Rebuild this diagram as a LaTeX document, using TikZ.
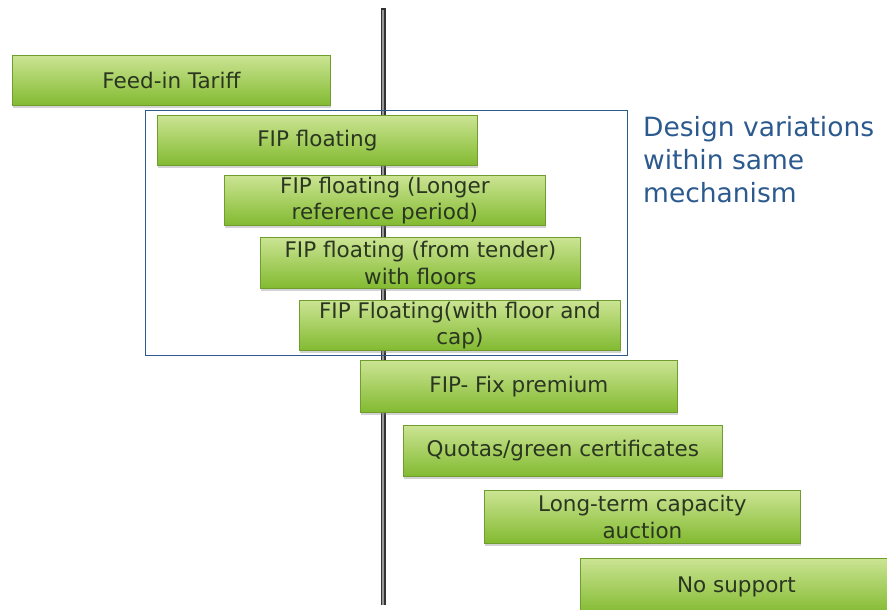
\documentclass[tikz,border=0pt]{standalone}
\usepackage{fontspec}
\setmainfont{DejaVu Sans}
\usetikzlibrary{shadows}
\definecolor{boxtop}{HTML}{CBE493}
\definecolor{boxbot}{HTML}{82BA30}
\definecolor{boxline}{HTML}{6F9E2E}
\definecolor{boxtext}{HTML}{2A3620}
\definecolor{dvblue}{HTML}{2C5A8E}
\tikzset{
  gbox/.style={draw=boxline, line width=0.8pt, top color=boxtop, bottom color=boxbot,
    text=boxtext, font=\fontsize{21.5}{26.5}\selectfont, align=center,
    drop shadow={shadow xshift=1pt, shadow yshift=-3pt, opacity=0.35},
    inner sep=0pt, anchor=north west},
}
\begin{document}
\begin{tikzpicture}[x=1pt,y=-1pt]
\useasboundingbox (0,0) rectangle (887,610);
% vertical axis
\coordinate (top) at (383,8);
\coordinate (bot) at (383,605);
\draw[line width=5pt, color=black!80] (top) -- (bot);
\draw[line width=2pt, color=black!40] (383,10) -- (bot);
% boxes
\node[gbox, minimum width=318pt, minimum height=50pt] (b1) at (12,55) {Feed-in Tariff};
\node[draw=dvblue, line width=0.9pt, minimum width=482pt, minimum height=245pt, anchor=north west, inner sep=0pt] (grp) at (145,110) {};
\node[gbox, minimum width=320pt, minimum height=50pt] (b2) at (157,115) {FIP floating};
\node[gbox, minimum width=321pt, minimum height=50pt] (b3) at (224,175) {FIP floating (Longer\\reference period)};
\node[gbox, minimum width=320pt, minimum height=51pt] (b4) at (260,237) {FIP floating (from tender)\\with floors};
\node[gbox, minimum width=321pt, minimum height=50pt] (b5) at (299,300) {FIP Floating(with floor and\\cap)};
\node[gbox, minimum width=317pt, minimum height=52pt] (b6) at (360,360) {FIP- Fix premium};
\node[gbox, minimum width=319pt, minimum height=51pt] (b7) at (403,425) {Quotas/green certificates};
\node[gbox, minimum width=316pt, minimum height=53pt] (b8) at (484,490) {Long-term capacity\\auction};
\node[gbox, minimum width=312pt, minimum height=56pt] (b9) at (580,558) {No support};
% label
\node[anchor=north west, text=dvblue, align=left, font=\fontsize{26.5}{33}\selectfont, inner sep=0pt] (lbl) at (643,116) {Design variations\\within same\\mechanism};
\end{tikzpicture}
\end{document}
